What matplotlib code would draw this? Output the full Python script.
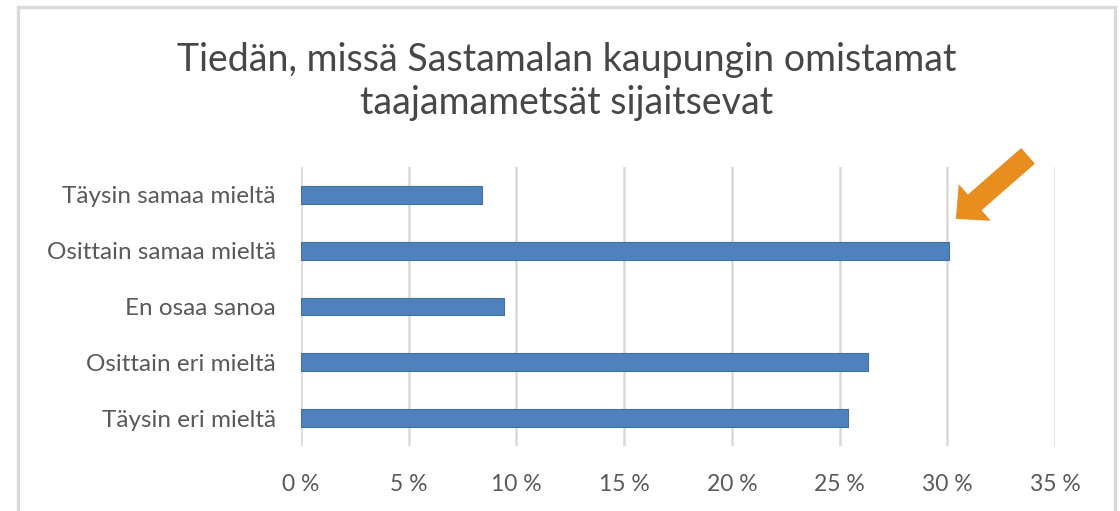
import matplotlib
matplotlib.use("Agg")
import matplotlib.pyplot as plt
from matplotlib.patches import Rectangle

categories = ["Täysin samaa mieltä", "Osittain samaa mieltä", "En osaa sanoa",
              "Osittain eri mieltä", "Täysin eri mieltä"]
values = [8.4, 30.1, 9.4, 26.3, 25.4]
xticks = [0, 5, 10, 15, 20, 25, 30, 35]
xtick_labels = ["0 %", "5 %", "10 %", "15 %", "20 %", "25 %", "30 %", "35 %"]
title = "Tiedän, missä Sastamalan kaupungin omistamat\ntaajamametsät sijaitsevat"

plt.rcParams['font.family'] = ['Lato', 'DejaVu Sans']

W, H = 1120, 511
fig = plt.figure(figsize=(W / 100, H / 100), dpi=100)
fig.patch.set_facecolor("white")

# outer chart border
border_col = "#D9D9D9"
fig.add_artist(Rectangle((17.5 / W, -0.05), (1115 - 17.5) / W, (H - 7.5) / H + 0.05,
                         transform=fig.transFigure, fill=False,
                         edgecolor=border_col, linewidth=2.4))

left, right = 301 / W, 1055 / W
bottom, top = 1 - 446 / H, 1 - 167 / H
ax = fig.add_axes([left, bottom, right - left, top - bottom])

y = list(range(len(categories)))
ax.barh(y, values, height=0.32, color="#4F81BD", edgecolor="#41719C",
        linewidth=0.8, zorder=3)
ax.set_ylim(len(categories) - 0.5, -0.5)
ax.set_xlim(0, 35)
ax.set_yticks(y)
ax.set_yticklabels(categories, fontsize=17.5, color="#595959")
ax.set_xticks(xticks)
ax.set_xticklabels(xtick_labels, fontsize=16.5, color="#595959")
ax.tick_params(axis='y', length=0, pad=18)
ax.tick_params(axis='x', length=0, pad=20)
for s in ax.spines.values():
    s.set_visible(False)
ax.grid(axis='x', color="#D9D9D9", linewidth=1.8, zorder=0)
ax.set_axisbelow(True)

fig.text(0.5 + 7 / W, 1 - 60 / H, title.split("\n")[0], ha='center', va='center',
         fontsize=27, color="#474747")
fig.text(0.5 + 7 / W, 1 - 103 / H, title.split("\n")[1], ha='center', va='center',
         fontsize=27, color="#474747")

# highlight arrow pointing at the largest bar
ax.annotate("", xy=(30.4, 1 - 0.57), xytext=(33.75, 1 - 1.70),
            xycoords='data', textcoords='data', annotation_clip=False,
            arrowprops=dict(arrowstyle="simple,head_length=18,head_width=35,tail_width=15",
                            mutation_scale=1, color="#E88E1E", shrinkA=0, shrinkB=0,
                            linewidth=0))

fig.savefig("out.png", dpi=100, facecolor="white")
